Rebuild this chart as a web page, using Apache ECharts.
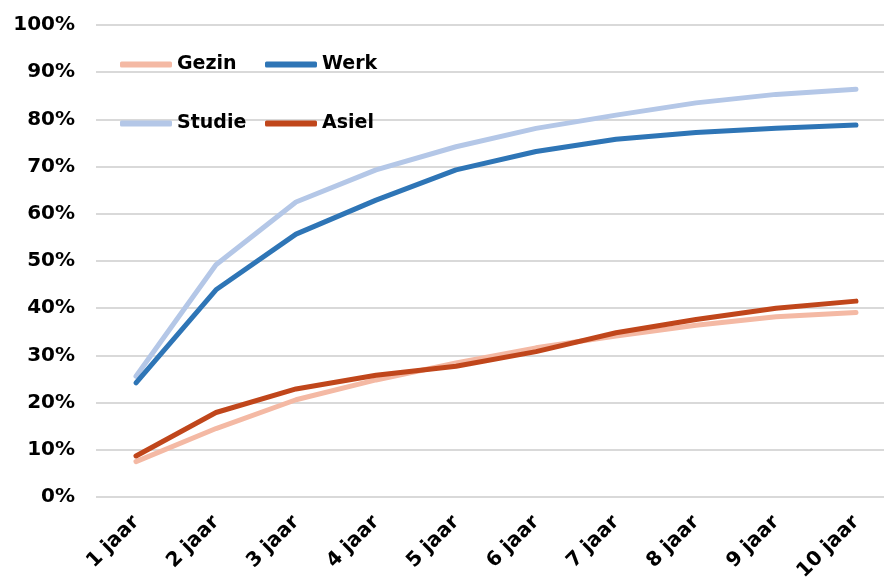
<!DOCTYPE html>
<html>
<head>
<meta charset="utf-8">
<script src="https://cdn.jsdelivr.net/npm/echarts@6/dist/echarts.min.js"></script>
<style>html,body{margin:0;padding:0;background:#fff;overflow:hidden;width:884px;height:577px}#c{width:896px;height:577px}</style>
</head>
<body>
<div id="c"></div>
<script>
const categories = ['1 jaar','2 jaar','3 jaar','4 jaar','5 jaar','6 jaar','7 jaar','8 jaar','9 jaar','10 jaar'];
const gezin  = [7.5, 14.5, 20.6, 24.8, 28.4, 31.6, 34.1, 36.4, 38.2, 39.1];
const werk   = [24.2, 43.9, 55.7, 62.9, 69.3, 73.2, 75.8, 77.2, 78.1, 78.8];
const studie = [25.6, 49.2, 62.5, 69.3, 74.2, 78.1, 80.9, 83.5, 85.3, 86.4];
const asiel  = [8.7, 17.9, 22.9, 25.8, 27.7, 30.8, 34.8, 37.6, 40.0, 41.5];

const font = 'DejaVu Sans';
const colors = {Gezin:'#F4B9A4', Werk:'#2E75B6', Studie:'#B4C7E7', Asiel:'#C0461B'};
function mkLegend(name, left, top){
  return {data:[name], left:left, top:top, padding:0, icon:'roundRect', itemWidth:52, itemHeight:6, itemGap:0,
    textStyle:{fontFamily:font, fontWeight:'bold', fontSize:19, color:'#000'}, selectedMode:false};
}
function mkSeries(name, data, z){
  return {name:name, type:'line', data:data, symbol:'none', z:z,
    lineStyle:{width:5, color:colors[name], cap:'round', join:'round'}, itemStyle:{color:colors[name]}};
}
const chart = echarts.init(document.getElementById('c'));
chart.setOption({
  animation:false,
  grid:{left:96, right:0, top:25, bottom:80, containLabel:false, outerBoundsMode:'none'},
  legend:[mkLegend('Gezin',120,55), mkLegend('Werk',265,55), mkLegend('Studie',120,114), mkLegend('Asiel',265,114)],
  xAxis:{type:'category', data:categories, boundaryGap:true,
    axisLine:{show:false}, axisTick:{show:false},
    axisLabel:{rotate:45, fontFamily:font, fontWeight:'bold', fontSize:20, color:'#000', margin:22, interval:0}},
  yAxis:{type:'value', min:0, max:100, interval:10,
    axisLine:{show:false}, axisTick:{show:false},
    splitLine:{lineStyle:{color:'#D9D9D9', width:2}},
    axisLabel:{formatter:'{value}%', fontFamily:font, fontWeight:'bold', fontSize:20, color:'#000', margin:21}},
  series:[mkSeries('Gezin',gezin,2), mkSeries('Werk',werk,3), mkSeries('Studie',studie,1), mkSeries('Asiel',asiel,4)]
});
</script>
</body>
</html>
